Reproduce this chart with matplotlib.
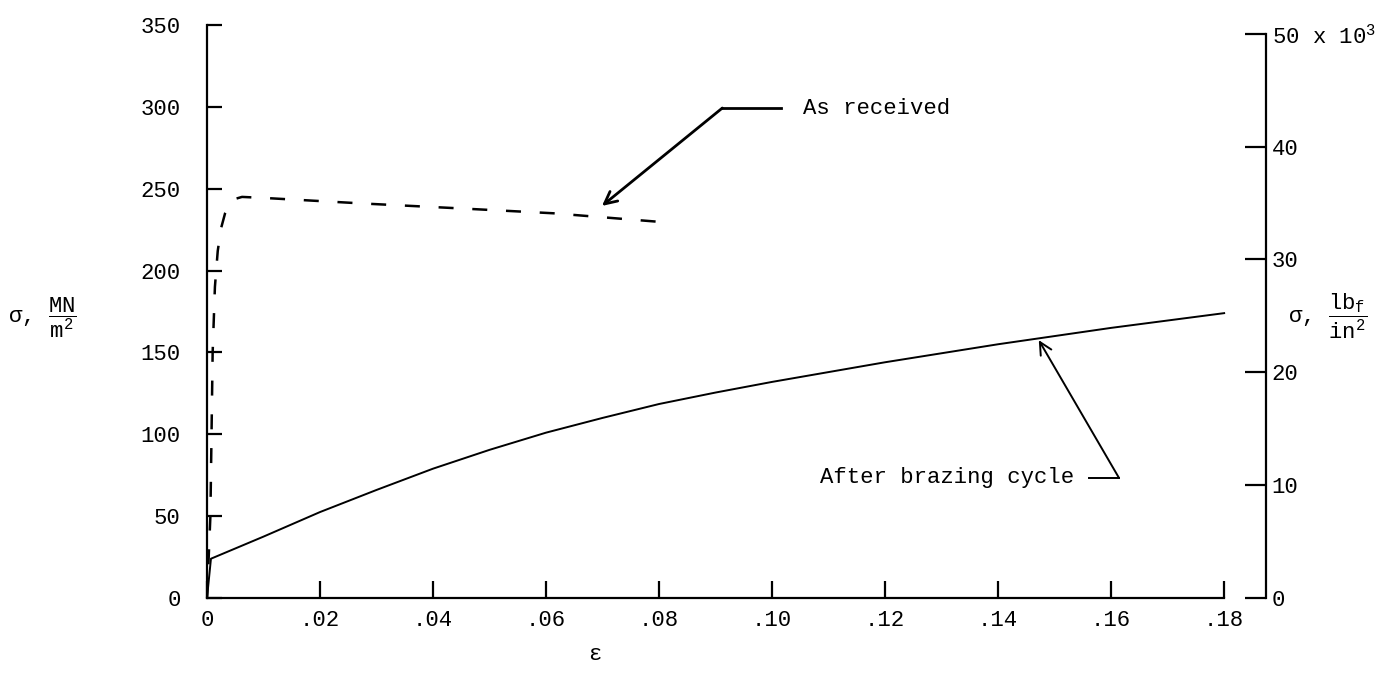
import matplotlib
matplotlib.use("Agg")
import matplotlib.pyplot as plt

# Stress-strain curves, strain (-) vs stress (MN/m^2)
received_strain = [0.0, 0.0006, 0.0008, 0.0010, 0.0014, 0.0019, 0.0025, 0.0032,
                   0.0040, 0.0050, 0.0062, 0.0105, 0.0275, 0.0447, 0.0613, 0.0810]
received_stress = [0.0, 50.0, 100.0, 150.0, 190.0, 212.0, 226.0, 235.0,
                   240.5, 243.8, 245.0, 244.3, 241.0, 238.0, 235.0, 229.5]

brazed_strain = [0.0, 0.0007, 0.01, 0.02, 0.03, 0.04, 0.05, 0.06, 0.07, 0.08,
                 0.09, 0.10, 0.11, 0.12, 0.13, 0.14, 0.15, 0.16, 0.17, 0.18]
brazed_stress = [0.0, 24.0, 37.5, 52.5, 66.0, 79.0, 90.5, 101.0, 110.0, 118.5,
                 125.5, 132.0, 138.0, 144.0, 149.5, 155.0, 160.0, 165.0, 169.5, 174.0]

x_ticks = [0, 0.02, 0.04, 0.06, 0.08, 0.10, 0.12, 0.14, 0.16, 0.18]
x_labels = ["0", ".02", ".04", ".06", ".08", ".10", ".12", ".14", ".16", ".18"]
mpa_ticks = [0, 50, 100, 150, 200, 250, 300, 350]
ksi_ticks = [0, 10, 20, 30, 40, 50]
ksi_labels = ["0", "10", "20", "30", "40", r"50 x 10$^3$"]

MPA_PER_KSI = 6.89476

plt.rcParams["font.family"] = ["Liberation Mono", "DejaVu Sans Mono"]
plt.rcParams["mathtext.fontset"] = "custom"
plt.rcParams["mathtext.rm"] = "Liberation Mono"
plt.rcParams["mathtext.it"] = "Liberation Mono"

FS = 16
fig = plt.figure(figsize=(13.93, 6.78), dpi=100)
ax = fig.add_axes([0.1486, 0.118, 0.7602, 0.8451])

ax.plot(brazed_strain, brazed_stress, color="black", lw=1.4)
ax.plot(received_strain, received_stress, color="black", lw=1.8,
        dashes=(6, 7.5))

ax.set_xlim(0, 0.1874)
ax.set_ylim(0, 350)

for side in ("top", "right"):
    ax.spines[side].set_visible(False)
ax.spines["left"].set_bounds(0, 350)
ax.spines["bottom"].set_bounds(0, 0.18)
for side in ("left", "bottom"):
    ax.spines[side].set_linewidth(1.6)

ax.set_xticks(x_ticks)
ax.set_xticklabels(x_labels)
ax.set_yticks(mpa_ticks)
ax.tick_params(axis="x", direction="in", length=12, width=1.6, pad=9,
               labelsize=FS)
ax.tick_params(axis="y", direction="in", length=11, width=1.6, pad=19,
               labelsize=FS)

# second stress scale in ksi on the right
ax2 = ax.twinx()
ax2.set_ylim(0, 350 / MPA_PER_KSI)
for side in ("top", "left", "bottom"):
    ax2.spines[side].set_visible(False)
ax2.spines["right"].set_bounds(0, 50)
ax2.spines["right"].set_linewidth(1.6)
ax2.set_yticks(ksi_ticks)
ax2.set_yticklabels(ksi_labels)
ax2.tick_params(axis="y", direction="in", length=15, width=1.6, pad=4,
                labelsize=FS)

# callouts
arrow_kw = dict(arrowstyle="->", color="black", lw=2.0,
                mutation_scale=22, shrinkA=0, shrinkB=0)
ax.plot([0.0912, 0.1015], [299.3, 299.3], color="black", lw=2.0)
ax.annotate("", xy=(0.0699, 239.5), xytext=(0.0912, 299.3), arrowprops=arrow_kw)
ax.text(0.1054, 299.3, "As received", fontsize=FS, va="center", ha="left")

arrow_kw2 = dict(arrow_kw, lw=1.4)
ax.plot([0.1560, 0.1614], [73.3, 73.3], color="black", lw=1.4)
ax.annotate("", xy=(0.1472, 157.5), xytext=(0.1614, 73.3), arrowprops=arrow_kw2)
ax.text(0.1534, 73.3, "After brazing cycle", fontsize=FS, va="center", ha="right")

# axis titles
fig.text(8 / 1393, 1 - 318 / 678, r"σ, $\dfrac{MN}{m^2}$", fontsize=FS,
         va="center", ha="left")
fig.text(1288 / 1393, 1 - 316 / 678, r"σ, $\dfrac{lb_f}{in^2}$", fontsize=FS,
         va="center", ha="left")
fig.text(595 / 1393, 1 - 655 / 678, "ε", fontsize=FS, va="center", ha="center")

fig.savefig("out.png", dpi=100)
